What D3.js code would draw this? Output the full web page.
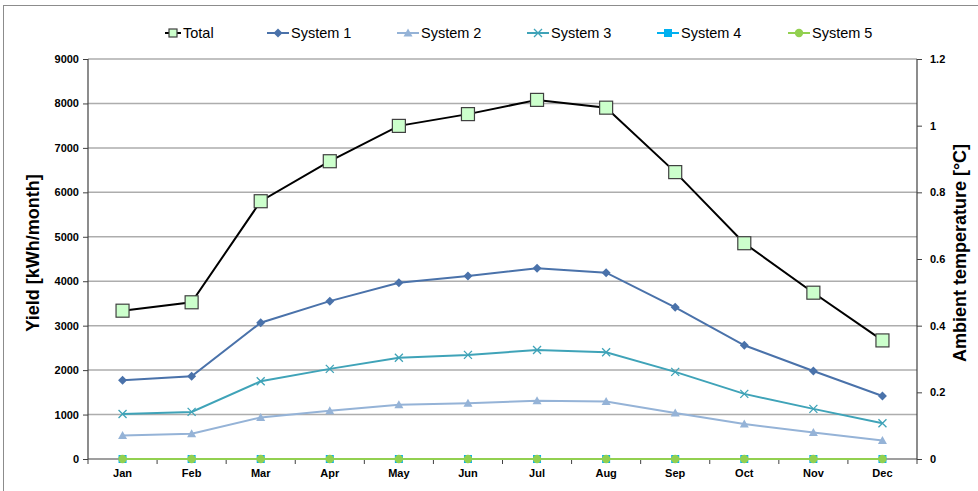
<!DOCTYPE html>
<html><head><meta charset="utf-8">
<script src="https://cdn.jsdelivr.net/npm/d3@7"></script>
<style>body{margin:0;background:#fff;}svg{display:block;font-family:"Liberation Sans",Arial,sans-serif;}</style>
</head><body><svg id="c" width="978" height="491"></svg>
<script>
const months = ["Jan","Feb","Mar","Apr","May","Jun","Jul","Aug","Sep","Oct","Nov","Dec"];
const total   = [3337,3526,5800,6700,7495,7760,8080,7905,6455,4855,3742,2668];
const system1 = [1771,1861,3067,3552,3965,4116,4290,4193,3413,2558,1980,1418];
const system2 = [530,570,935,1085,1218,1256,1310,1295,1035,785,595,418];
const system3 = [1012,1060,1748,2028,2278,2342,2452,2400,1960,1465,1128,806];
const system4 = [0,0,0,0,0,0,0,0,0,0,0,0];
const system5 = [0,0,0,0,0,0,0,0,0,0,0,0];
const leftTicks = [0,1000,2000,3000,4000,5000,6000,7000,8000,9000];
const rightTicks = [0,0.2,0.4,0.6,0.8,1,1.2];

const series = [
  {name:"Total", values:total, color:"#000000", marker:"bigsquare"},
  {name:"System 1", values:system1, color:"#4a72aa", marker:"diamond"},
  {name:"System 2", values:system2, color:"#95b3d7", marker:"triangle"},
  {name:"System 3", values:system3, color:"#3fa3b8", marker:"cross"},
  {name:"System 4", values:system4, color:"#00b0f0", marker:"square"},
  {name:"System 5", values:system5, color:"#92d050", marker:"circle"}
];

const svg = d3.select("#c");
const L=88, R=917, T=59, B=459;
const x = d3.scaleBand().domain(months).range([L,R]);
const y = d3.scaleLinear().domain([0,9000]).range([B,T]);
const y2 = d3.scaleLinear().domain([0,1.2]).range([B,T]);
const cx = m => x(m)+x.bandwidth()/2;

// outer border
svg.append("rect").attr("x",3.5).attr("y",5.5).attr("width",1000).attr("height",600)
  .attr("fill","none").attr("stroke","#8c8c8c").attr("stroke-width",1);

// gridlines
svg.append("g").selectAll("line").data(leftTicks.filter(d=>d>0)).join("line")
  .attr("x1",L).attr("x2",R).attr("y1",d=>y(d)).attr("y2",d=>y(d))
  .attr("stroke","#adadad").attr("stroke-width",1.5);

// left axis
const gl = svg.append("g").attr("transform",`translate(${L},0)`)
  .call(d3.axisLeft(y).tickValues(leftTicks).tickSize(5).tickPadding(4).tickFormat(d3.format("d")));
// right axis
const gr = svg.append("g").attr("transform",`translate(${R},0)`)
  .call(d3.axisRight(y2).tickValues(rightTicks).tickSize(5).tickPadding(8).tickFormat(d=>d3.format("")(d)));
// bottom axis
const gb = svg.append("g").attr("transform",`translate(0,${B})`)
  .call(d3.axisBottom(x).tickSize(0).tickPadding(10));
// category boundary ticks
svg.append("g").selectAll("line").data(d3.range(13)).join("line")
  .attr("x1",i=>L+i*x.step()).attr("x2",i=>L+i*x.step()).attr("y1",B).attr("y2",B+5)
  .attr("stroke","#404040");

[gl,gr,gb].forEach(g=>{
  g.select(".domain").attr("stroke","#404040").attr("stroke-width",1.2);
  g.selectAll(".tick line").attr("stroke","#404040");
  g.selectAll("text").attr("font-size",11).attr("font-weight","bold").attr("fill","#000")
    .attr("font-family","'Liberation Sans',Arial,sans-serif");
});
gl.select(".domain").attr("d",`M0,${T}V${B}`);
gr.select(".domain").attr("d",`M0,${T}V${B}`);
gb.select(".domain").attr("d",`M${L},0H${R}`);

// axis titles
svg.append("text").attr("transform",`translate(39,253) rotate(-90)`)
  .attr("text-anchor","middle").attr("font-size",18).attr("font-weight","bold").text("Yield [kWh/month]");
svg.append("text").attr("transform",`translate(966,253) rotate(-90)`)
  .attr("text-anchor","middle").attr("font-size",18).attr("font-weight","bold").text("Ambient temperature [°C]");

function drawMarker(g, type, color, px, py){
  if(type==="bigsquare"){
    g.append("rect").attr("x",px-6.5).attr("y",py-6.5).attr("width",13).attr("height",13)
      .attr("fill","#ccffcc").attr("stroke","#404040").attr("stroke-width",1.2);
  } else if(type==="diamond"){
    g.append("path").attr("d",`M${px},${py-4.5}L${px+4.5},${py}L${px},${py+4.5}L${px-4.5},${py}Z`).attr("fill",color);
  } else if(type==="triangle"){
    g.append("path").attr("d",`M${px},${py-4.5}L${px+4.5},${py+3.5}L${px-4.5},${py+3.5}Z`).attr("fill",color);
  } else if(type==="cross"){
    g.append("path").attr("d",`M${px-4},${py-4}L${px+4},${py+4}M${px+4},${py-4}L${px-4},${py+4}`)
      .attr("stroke",color).attr("stroke-width",1.3).attr("fill","none");
  } else if(type==="square"){
    g.append("rect").attr("x",px-4).attr("y",py-4).attr("width",8).attr("height",8).attr("fill",color);
  } else if(type==="circle"){
    g.append("circle").attr("cx",px).attr("cy",py).attr("r",4.2).attr("fill",color);
  }
}

const line = d3.line().x((d,i)=>cx(months[i])).y(d=>y(d));
series.forEach(s=>{
  const g = svg.append("g");
  g.append("path").attr("d",line(s.values)).attr("fill","none").attr("stroke",s.color).attr("stroke-width",2);
  s.values.forEach((v,i)=>drawMarker(g,s.marker,s.color,cx(months[i]),y(v)));
});

// legend
const legX = [165,267,397,527,657,788];
const lg = svg.append("g");
series.forEach((s,i)=>{
  const lx = legX[i], ly = 33;
  const w = i===0?16:22;
  lg.append("line").attr("x1",lx).attr("x2",lx+w).attr("y1",ly).attr("y2",ly).attr("stroke",s.color).attr("stroke-width",2);
  if(s.marker==="bigsquare"){
    lg.append("rect").attr("x",lx+w/2-4).attr("y",ly-4).attr("width",8).attr("height",8)
      .attr("fill","#ccffcc").attr("stroke","#404040").attr("stroke-width",1.2);
  } else drawMarker(lg,s.marker,s.color,lx+w/2,ly);
  lg.append("text").attr("x",lx+w+2).attr("y",ly+5).attr("font-size",14.5).attr("fill","#000").text(s.name);
});
</script></body></html>
